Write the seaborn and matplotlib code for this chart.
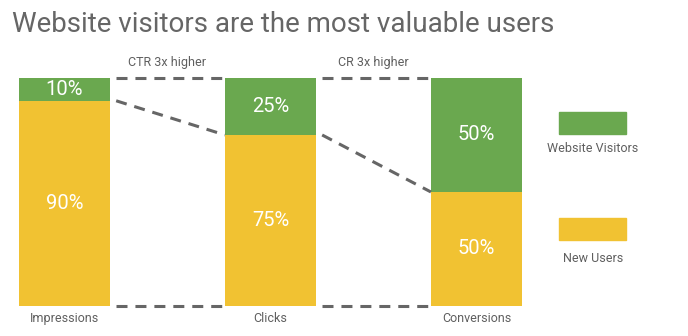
import matplotlib
matplotlib.use("Agg")
import matplotlib.pyplot as plt
from matplotlib.patches import Rectangle
import seaborn as sns
import pandas as pd

sns.set_style("white")
plt.rcParams["font.family"] = ["Roboto", "DejaVu Sans"]

# Funnel stages and audience split (percent)
stages = ["Impressions", "Clicks", "Conversions"]
website_visitors = [10, 25, 50]
new_users = [90, 75, 50]
step_notes = ["CTR 3x higher", "CR 3x higher"]
series_names = ["Website Visitors", "New Users"]
title = "Website visitors are the most valuable users"

GREEN = "#6aa84f"
YELLOW = "#f1c232"
GREY = "#666666"
TEXT = "#5f5f5f"
BAR_W = 0.442

df = pd.DataFrame({
    "stage": stages,
    "total": [w + n for w, n in zip(website_visitors, new_users)],
    "new": new_users,
    "web": website_visitors,
})

fig = plt.figure(figsize=(6.88, 3.36), dpi=100)
ax = fig.add_axes([0, 0, 1, 1])

# Stacked bars: full stack in green, new users over it in yellow
sns.barplot(data=df, x="stage", y="total", color=GREEN, width=BAR_W,
            saturation=1, ax=ax, edgecolor="none")
sns.barplot(data=df, x="stage", y="new", color=YELLOW, width=BAR_W,
            saturation=1, ax=ax, edgecolor="none")

ax.set_xlim(-0.313, 3.027)
ax.set_ylim(-13.16, 134.2)
ax.axis("off")

# Segment labels
for i, (w, n) in enumerate(zip(website_visitors, new_users)):
    ax.text(i, n + w / 2, f"{w}%", color="white", fontsize=14.5,
            ha="center", va="center")
    ax.text(i, n / 2, f"{n}%", color="white", fontsize=14.5,
            ha="center", va="center")
    ax.text(i, -5.3, stages[i], color=TEXT, fontsize=9,
            ha="center", va="center")

# Dashed connectors between neighbouring bars
dash = dict(color=GREY, lw=2.2, ls=(0, (3.6, 2.6)), solid_capstyle="butt")
for i in range(len(stages) - 1):
    x0, x1 = i + BAR_W / 2 + 0.03, i + 1 - BAR_W / 2
    top0 = df["total"][i]
    top1 = df["total"][i + 1]
    ax.plot([x0, x1], [top0, top1], **dash)
    ax.plot([x0, x1], [0, 0], **dash)
    ax.plot([x0, x1], [new_users[i], new_users[i + 1]], **dash)
    ax.text(i + 0.5, 106.8, step_notes[i], color=TEXT, fontsize=9,
            ha="center", va="center")

# Title
fig.text(12 / 688, 1 - 25 / 336, title, color=GREY, fontsize=20,
         ha="left", va="center")

# Legend
W, H = 688, 336
for name, col, top, label_y in [(series_names[0], GREEN, 112, 149),
                                (series_names[1], YELLOW, 218, 258)]:
    fig.patches.append(Rectangle((559 / W, 1 - (top + 22) / H), 67 / W, 22 / H,
                                 transform=fig.transFigure, color=col,
                                 figure=fig))
    fig.text(593 / W, 1 - label_y / H, name, color=TEXT, fontsize=9,
             ha="center", va="center")

fig.savefig("out.png", dpi=100)
